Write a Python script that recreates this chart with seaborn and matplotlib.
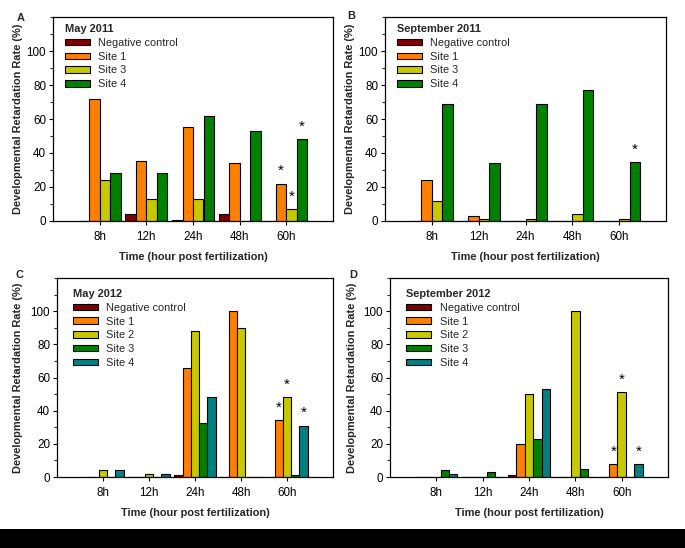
import numpy as np
import pandas as pd
import matplotlib
matplotlib.use("Agg")
import matplotlib.pyplot as plt
from matplotlib.patches import Rectangle
from matplotlib.ticker import MultipleLocator
import seaborn as sns

sns.set_theme(style="ticks")
plt.rcParams['font.family'] = ['Liberation Sans', 'DejaVu Sans']

times = ["8h", "12h", "24h", "48h", "60h"]

# Panel A: May 2011
a_sites = ["Negative control", "Site 1", "Site 3", "Site 4"]
a_neg = [0, 4, 0.5, 4, 0]
a_s1 = [72, 35, 55.5, 34, 22]
a_s3 = [24, 13, 13, 0, 7]
a_s4 = [28, 28, 62, 53, 48]
a_stars = [("60h", "Site 1"), ("60h", "Site 3"), ("60h", "Site 4")]

# Panel B: September 2011
b_sites = ["Negative control", "Site 1", "Site 3", "Site 4"]
b_neg = [0, 0, 0, 0, 0]
b_s1 = [24, 3, 0, 0, 0]
b_s3 = [12, 1, 1, 4, 1]
b_s4 = [69, 34, 69, 77, 34.5]
b_stars = [("60h", "Site 4")]

# Panel C: May 2012
c_sites = ["Negative control", "Site 1", "Site 2", "Site 3", "Site 4"]
c_neg = [0, 0, 1, 0, 0]
c_s1 = [0, 0, 66, 100, 34.4]
c_s2 = [4, 2, 88, 90, 48]
c_s3 = [0, 0, 32.6, 0, 1]
c_s4 = [4, 2, 48.5, 0, 31]
c_stars = [("60h", "Site 1"), ("60h", "Site 2"), ("60h", "Site 4")]

# Panel D: September 2012
d_sites = ["Negative control", "Site 1", "Site 2", "Site 3", "Site 4"]
d_neg = [0, 0, 1.5, 0, 0]
d_s1 = [0, 0, 20, 0, 8]
d_s2 = [0, 0, 50, 100, 51]
d_s3 = [4, 3, 23, 5, 0]
d_s4 = [2, 0, 53, 0, 7.8]
d_stars = [("60h", "Site 1"), ("60h", "Site 2"), ("60h", "Site 4")]

DARKRED = "#800000"
ORANGE = "#FF8000"
YELLOW = "#C8C800"
GREEN = "#008000"
TEAL = "#008080"

panels = [
    ("A", "May 2011", a_sites, [a_neg, a_s1, a_s3, a_s4], [DARKRED, ORANGE, YELLOW, GREEN], a_stars,
     [53, 17, 333, 221], 23, (21, 18), (0.035, 0.975)),
    ("B", "September 2011", b_sites, [b_neg, b_s1, b_s3, b_s4], [DARKRED, ORANGE, YELLOW, GREEN], b_stars,
     [385, 17, 666, 221], 355, (351, 16), (0.035, 0.975)),
    ("C", "May 2012", c_sites, [c_neg, c_s1, c_s2, c_s3, c_s4], [DARKRED, ORANGE, YELLOW, GREEN, TEAL], c_stars,
     [57, 278, 333, 477], 23, (20, 275), (0.05, 0.955)),
    ("D", "September 2012", d_sites, [d_neg, d_s1, d_s2, d_s3, d_s4], [DARKRED, ORANGE, YELLOW, GREEN, TEAL], d_stars,
     [390, 278, 668, 477], 357, (353, 275), (0.05, 0.955)),
]

W, H = 685, 548
fig = plt.figure(figsize=(W / 100, H / 100), dpi=100)
fig.patch.set_facecolor("white")

FS = 7.9

for letter, title, sites, series, colors, stars, box, ylab_px, let_xy, leg_anchor in panels:
    x0, y0, x1, y1 = box
    ax = fig.add_axes([x0 / W, 1 - y1 / H, (x1 - x0) / W, (y1 - y0) / H])
    rows = []
    for s, vals in zip(sites, series):
        for t, v in zip(times, vals):
            rows.append({"time": t, "site": s, "value": v})
    df = pd.DataFrame(rows)
    pal = dict(zip(sites, colors))
    sns.barplot(data=df, x="time", y="value", hue="site", order=times, hue_order=sites,
                palette=pal, width=0.9, gap=0, edgecolor="black", linewidth=0.8,
                saturation=1, errorbar=None, ax=ax, legend=False)
    ax.set_xlim(-1, 5)
    ax.set_ylim(0, 120)
    ax.yaxis.set_minor_locator(MultipleLocator(10))
    ax.set_yticks([0, 20, 40, 60, 80, 100])
    for sp in ax.spines.values():
        sp.set_visible(True)
        sp.set_linewidth(0.9)
        sp.set_color("black")
    ax.tick_params(axis="both", which="major", direction="out", length=3, width=0.8,
                   labelsize=8.4, pad=2, colors="black")
    ax.tick_params(axis="y", which="minor", direction="out", length=2, width=0.8)
    ax.tick_params(axis="x", which="major", pad=4)
    ax.set_ylabel("Developmental Retardation Rate (%)", fontsize=FS, fontweight="bold")
    ax.set_xlabel("Time (hour post fertilization)", fontsize=FS, fontweight="bold", labelpad=6.5)
    ax.yaxis.set_label_coords((ylab_px - x0) / (x1 - x0), 0.5)

    # significance stars
    for t, s in stars:
        hi = sites.index(s)
        ci = times.index(t)
        bar = ax.containers[hi][ci]
        xc = bar.get_x() + bar.get_width() / 2
        ax.text(xc, bar.get_height() + 7.5, "*", ha="center", va="center", fontsize=11, color="black")

    handles = [Rectangle((0, 0), 1, 1, facecolor=c, edgecolor="black", linewidth=0.8) for c in colors]
    ax.legend(handles, sites, title=title, loc="upper left", bbox_to_anchor=leg_anchor,
              frameon=False, fontsize=FS, handlelength=2.3, handleheight=0.55,
              labelspacing=0.34, handletextpad=0.75, borderaxespad=0, borderpad=0.2,
              alignment="left",
              title_fontproperties={"weight": "bold", "size": FS})

    fig.text(let_xy[0] / W, 1 - let_xy[1] / H, letter, fontsize=FS,
             fontweight="bold", ha="center", va="center")

fig.patches.append(Rectangle((0, 0), 1, 19 / H, transform=fig.transFigure,
                             facecolor="black", edgecolor="none", zorder=10))

fig.savefig("out.png", dpi=100)
